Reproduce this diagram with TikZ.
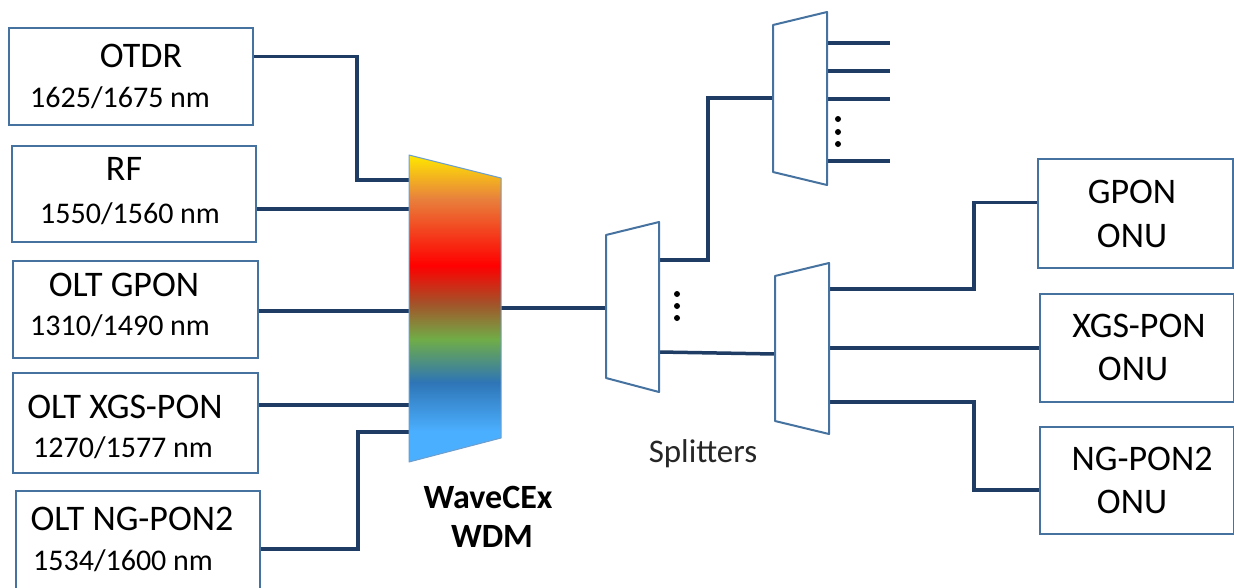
\documentclass[tikz,border=0pt]{standalone}
\usepackage{fontspec}
\setmainfont{Carlito}
\usetikzlibrary{calc}

\definecolor{boxblue}{RGB}{70,114,160}
\definecolor{fibre}{RGB}{30,60,100}
\definecolor{wdmye}{RGB}{255,232,0}
\definecolor{wdmor}{RGB}{232,130,60}
\definecolor{wdmrd}{RGB}{255,0,0}
\definecolor{wdmbr}{RGB}{165,80,40}
\definecolor{wdmgr}{RGB}{112,173,71}
\definecolor{wdmbl}{RGB}{46,117,182}
\definecolor{wdmlb}{RGB}{75,175,255}

% colour bands of the WDM, bottom (25bp) to top (75bp)
\pgfdeclareverticalshading{wdmfill}{100bp}{color(0bp)=(wdmlb); color(25bp)=(wdmlb);
  color(30bp)=(wdmlb); color(38bp)=(wdmbl); color(45bp)=(wdmgr); color(51bp)=(wdmbr);
  color(57bp)=(wdmrd); color(68bp)=(wdmor); color(75bp)=(wdmye); color(100bp)=(wdmye)}

\begin{document}
\begin{tikzpicture}[x=1pt, y=-1pt,
    box/.style={draw=boxblue, line width=2pt, inner sep=0pt},
    fiber/.style={draw=fibre, line width=3.5pt},
    splitter/.style={draw=boxblue, line width=2pt, fill=white, line join=round},
    bigtext/.style={font=\fontsize{36}{43}\selectfont, anchor=base, inner sep=0pt},
    nmtext/.style={font=\fontsize{30}{36}\selectfont, anchor=base west, inner sep=0pt},
    wdmtext/.style={font=\bfseries\fontsize{34}{40}\selectfont, anchor=base, inner sep=0pt}]
  \useasboundingbox (0,0) rectangle (1234,587);

  % sources (OLT side)
  \node[box, minimum width=244pt, minimum height=97pt] (otdr) at (131,76.5) {};
  \node[bigtext] (otdrname) at (141,67) {OTDR};
  \node[nmtext] (otdrnm) at (30,107) {1625/1675 nm};

  \node[box, minimum width=244pt, minimum height=96pt] (rf) at (134,194) {};
  \node[bigtext] (rfname) at (124,180) {RF};
  \node[nmtext] (rfnm) at (40,223) {1550/1560 nm};

  \node[box, minimum width=245pt, minimum height=97pt] (oltgpon) at (135.5,309.5) {};
  \node[bigtext] (oltgponname) at (124,296) {OLT GPON};
  \node[nmtext] (oltgponnm) at (30,335) {1310/1490 nm};

  \node[box, minimum width=245pt, minimum height=100pt] (oltxgs) at (135.5,423) {};
  \node[bigtext] (oltxgsname) at (125,418) {OLT XGS-PON};
  \node[nmtext] (oltxgsnm) at (33,457) {1270/1577 nm};

  \node[box, minimum width=244pt, minimum height=100pt] (oltng) at (138,541) {};
  \node[bigtext] (oltngname) at (132,530) {OLT NG-PON2};
  \node[nmtext] (oltngnm) at (33,570) {1534/1600 nm};

  % ONUs
  \node[box, minimum width=195pt, minimum height=109pt] (gponu) at (1135.5,213.5) {};
  \node[bigtext] (gponuname) at (1132,203) {GPON};
  \node[bigtext] (gponuonu) at (1132,247) {ONU};

  \node[box, minimum width=194pt, minimum height=108pt] (xgsonu) at (1137,348) {};
  \node[bigtext] (xgsonuname) at (1139,337) {XGS-PON};
  \node[bigtext] (xgsonuonu) at (1133,380) {ONU};

  \node[box, minimum width=194pt, minimum height=107pt] (ngonu) at (1137,480.5) {};
  \node[bigtext] (ngonuname) at (1142,470) {NG-PON2};
  \node[bigtext] (ngonuonu) at (1132,513) {ONU};

  % ports
  \coordinate (wdmA) at (409,180);
  \coordinate (wdmB) at (409,209);
  \coordinate (wdmC) at (409,311);
  \coordinate (wdmD) at (409,405);
  \coordinate (wdmE) at (409,432);
  \coordinate (wdmout) at (501,308);
  \coordinate (sp1in) at (606,308);
  \coordinate (sp1a) at (659,260);
  \coordinate (sp1b) at (659,352);
  \coordinate (sp2in) at (773,98);
  \coordinate (sp3in) at (775,354);
  \coordinate (sp3a) at (829,289);
  \coordinate (sp3b) at (829,348);
  \coordinate (sp3c) at (829,402);
  \coordinate (gponin) at ($(gponu.north west)!0.4!(gponu.south west)$);

  % fibres
  \draw[fiber] ($(otdr.north east)!0.3!(otdr.south east)$) -| ([xshift=-52pt]wdmA) -- (wdmA);
  \draw[fiber] (rf.east |- wdmB) -- (wdmB);
  \draw[fiber] (oltgpon.east |- wdmC) -- (wdmC);
  \draw[fiber] (oltxgs.east |- wdmD) -- (wdmD);
  \draw[fiber] ([yshift=-8pt]oltng.east) -| ([xshift=-51pt]wdmE) -- (wdmE);
  \draw[fiber] (wdmout) -- (sp1in);
  \draw[fiber] (sp1a) -| ([xshift=-65pt]sp2in) -- (sp2in);
  \draw[fiber] (sp1b) -- (sp3in);
  \foreach \y in {43,71,99,161}
    \draw[fiber] (827,\y) -- (890,\y);
  \draw[fiber] (sp3a) -| ([xshift=-63pt]gponin) -- (gponin);
  \draw[fiber] (sp3b) -- (xgsonu.west |- sp3b);
  \draw[fiber] (sp3c) -| ([xshift=-65pt,yshift=-9.5pt]ngonu.west) -- ([yshift=-9.5pt]ngonu.west);

  % WDM
  \shade[shading=wdmfill] (409,155) -- (501,178) -- (501,438) -- (409,462) -- cycle;
  \draw[draw=wdmbl!70, line width=1pt, line join=round] (409,155) -- (501,178) -- (501,438) -- (409,462) -- cycle;
  \node[wdmtext] (wdmname) at (488,508) {WaveCEx};
  \node[wdmtext] (wdmname2) at (492,547) {WDM};

  % splitters
  \draw[splitter] (606,235) -- (659,222) -- (659,392) -- (606,378) -- cycle;
  \draw[splitter] (773,25) -- (827,12) -- (827,185) -- (773,172) -- cycle;
  \draw[splitter] (775,276) -- (829,263) -- (829,434) -- (775,421) -- cycle;
  \foreach \y in {294,306,318}
    \fill (677,\y) circle (3pt);
  \foreach \y in {119,132,144}
    \fill (838,\y) circle (3pt);
  \node[font=\fontsize{33}{40}\selectfont, text=black!85, anchor=base, inner sep=0pt] (splitname) at (703,462) {Splitters};
\end{tikzpicture}
\end{document}
